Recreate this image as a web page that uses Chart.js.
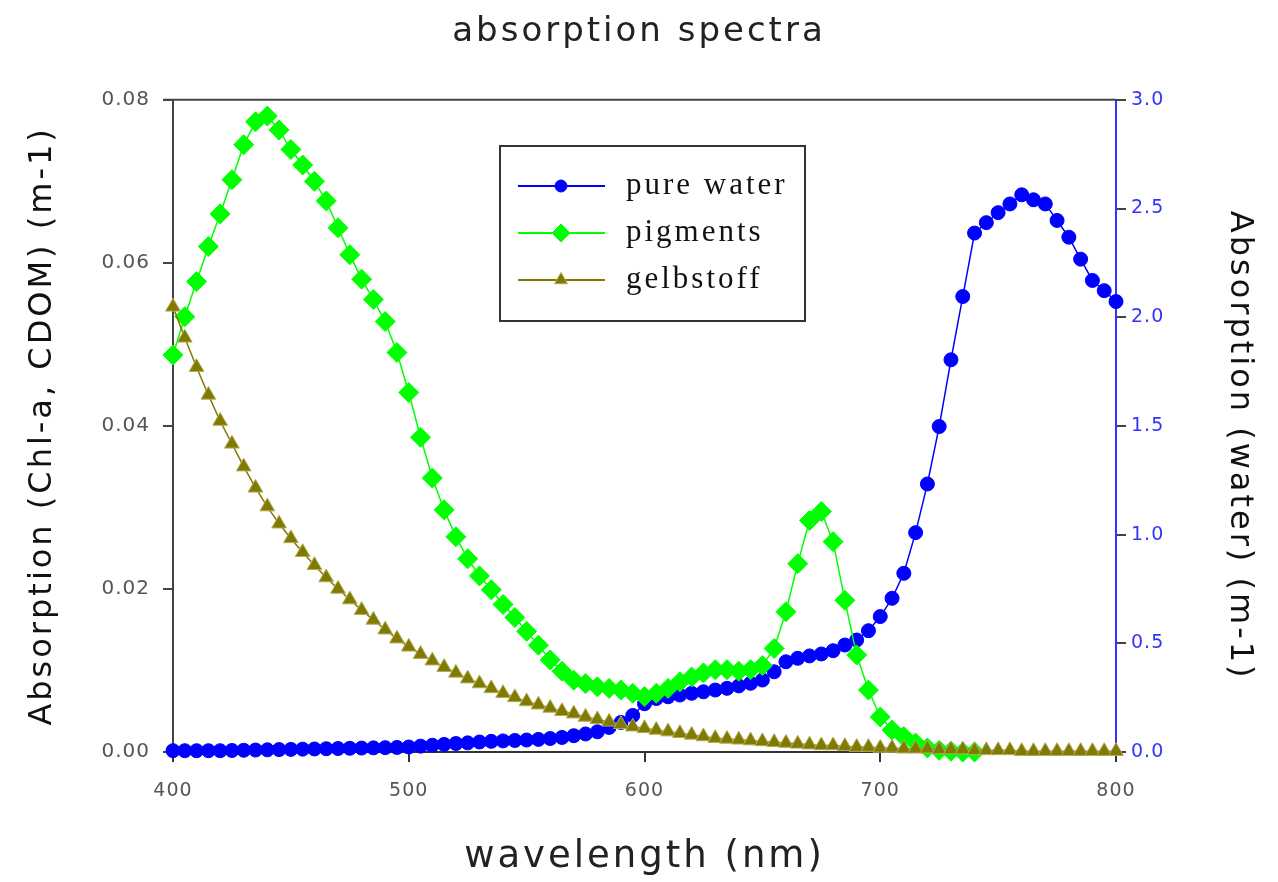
<!DOCTYPE html>
<html>
<head>
<meta charset="utf-8">
<title>absorption spectra</title>
<script src="https://cdn.jsdelivr.net/npm/chart.js@4"></script>
<style>
  html, body { margin: 0; padding: 0; background: #fff; }
  canvas { display: block; }
</style>
</head>
<body>
<canvas id="spectraChart" width="1278" height="882"></canvas>
<script>
// wavelengths (nm), 5 nm steps
const wavelengths = [
  400, 405, 410, 415, 420, 425, 430, 435, 440, 445,
  450, 455, 460, 465, 470, 475, 480, 485, 490, 495,
  500, 505, 510, 515, 520, 525, 530, 535, 540, 545,
  550, 555, 560, 565, 570, 575, 580, 585, 590, 595,
  600, 605, 610, 615, 620, 625, 630, 635, 640, 645,
  650, 655, 660, 665, 670, 675, 680, 685, 690, 695,
  700, 705, 710, 715, 720, 725, 730, 735, 740, 745,
  750, 755, 760, 765, 770, 775, 780, 785, 790, 795,
  800
];

// pure water, right axis (m-1)
const pureWater = [
  0.006, 0.006, 0.006, 0.006, 0.006, 0.007, 0.008, 0.009, 0.010, 0.011,
  0.012, 0.013, 0.014, 0.015, 0.016, 0.017, 0.018, 0.019, 0.020, 0.021,
  0.023, 0.027, 0.031, 0.035, 0.039, 0.042, 0.046, 0.049, 0.051, 0.053,
  0.055, 0.058, 0.062, 0.067, 0.075, 0.083, 0.093, 0.113, 0.136, 0.168,
  0.222, 0.246, 0.254, 0.262, 0.270, 0.277, 0.285, 0.293, 0.304, 0.316,
  0.331, 0.369, 0.415, 0.431, 0.442, 0.451, 0.466, 0.492, 0.515, 0.558,
  0.623, 0.707, 0.822, 1.009, 1.233, 1.497, 1.804, 2.095, 2.387, 2.435,
  2.481, 2.521, 2.563, 2.540, 2.521, 2.445, 2.368, 2.267, 2.169, 2.122,
  2.072
];

// pigments, left axis (400 - 740 nm)
const pigments = [
  0.0487, 0.0534, 0.0577, 0.0620, 0.0660, 0.0702, 0.0745, 0.0773, 0.0780, 0.0763,
  0.0739, 0.0720, 0.0700, 0.0676, 0.0643, 0.0610, 0.0580, 0.0555, 0.0528, 0.0490,
  0.0441, 0.0386, 0.0336, 0.0297, 0.0264, 0.0237, 0.0216, 0.0199, 0.0181, 0.0165,
  0.0148, 0.0131, 0.0113, 0.0099, 0.0088, 0.0084, 0.0080, 0.0078, 0.0076, 0.0072,
  0.0068, 0.0072, 0.0078, 0.0086, 0.0092, 0.0097, 0.0101, 0.0101, 0.0099, 0.0101,
  0.0106, 0.0127, 0.0172, 0.0231, 0.0284, 0.0295, 0.0258, 0.0186, 0.0119, 0.0076,
  0.0043, 0.0027, 0.0019, 0.0011, 0.0005, 0.0002, 0.0001, 0.0000, 0.0000
];

// gelbstoff (CDOM), left axis
const gelbstoff = [
  0.0546, 0.0508, 0.0472, 0.0438, 0.0406, 0.0378, 0.0350, 0.0324, 0.0301, 0.0280,
  0.0262, 0.0245, 0.0229, 0.0214, 0.0200, 0.0187, 0.0174, 0.0162, 0.0150, 0.0139,
  0.0129, 0.0120, 0.0112, 0.0104, 0.0097, 0.0090, 0.0084, 0.0078, 0.0072, 0.0067,
  0.0062, 0.0058, 0.0054, 0.0050, 0.0047, 0.0043, 0.0040, 0.0037, 0.0034, 0.0031,
  0.0029, 0.0027, 0.0025, 0.0023, 0.0021, 0.0019, 0.0017, 0.0016, 0.0015, 0.0014,
  0.0013, 0.0012, 0.0011, 0.0010, 0.0009, 0.0008, 0.0008, 0.0007, 0.0006, 0.0006,
  0.0005, 0.0005, 0.0004, 0.0004, 0.0004, 0.0003, 0.0003, 0.0003, 0.0002, 0.0002,
  0.0002, 0.0002, 0.0001, 0.0001, 0.0001, 0.0001, 0.0001, 0.0001, 0.0001, 0.0001,
  0.0001
];

const seriesNames = ["pure water", "pigments", "gelbstoff"];
const xTicks = [400, 500, 600, 700, 800];

const toPoints = (values) => values.map((v, i) => ({ x: wavelengths[i], y: v }));

const FONT = "'DejaVu Sans', sans-serif";
const BLUE = "#0000ff";
const GREEN = "#00ff00";
const OLIVE = "#807a00";

const datasets = [
  {
    label: seriesNames[0],
    data: toPoints(pureWater),
    yAxisID: "yWater",
    borderColor: BLUE,
    backgroundColor: BLUE,
    borderWidth: 1.5,
    pointStyle: "circle",
    pointRadius: 7,
    pointBorderWidth: 1,
    order: 2,
    clip: false,
  },
  {
    label: seriesNames[1],
    data: toPoints(pigments),
    yAxisID: "y",
    borderColor: GREEN,
    backgroundColor: GREEN,
    borderWidth: 1.5,
    pointStyle: "rectRot",
    pointRadius: 10,
    pointBorderWidth: 1,
    order: 1,
    clip: false,
  },
  {
    label: seriesNames[2],
    data: toPoints(gelbstoff),
    yAxisID: "y",
    borderColor: OLIVE,
    backgroundColor: OLIVE,
    pointBorderColor: "#b2ac5a",
    borderWidth: 1.5,
    pointStyle: "triangle",
    pointRadius: 8.5,
    pointBorderWidth: 1,
    order: 0,
    clip: false,
  },
];

// letter spacing for titles, tighter for tick labels; top frame line; boxed legend
const framePlugin = {
  id: "frame",
  afterLayout(chart) {
    Object.values(chart.scales).forEach((scale) => {
      if (scale._spaced) return;
      const drawLabels = scale.drawLabels;
      scale.drawLabels = function (area) {
        this.ctx.letterSpacing = "1px";
        drawLabels.call(this, area);
        this.ctx.letterSpacing = "3px";
      };
      scale._spaced = true;
    });
  },
  beforeDraw(chart) {
    chart.ctx.letterSpacing = "3px";
  },
  afterDraw(chart) {
    const ctx = chart.ctx;
    const area = chart.chartArea;
    ctx.save();
    // top frame line
    ctx.strokeStyle = "#444";
    ctx.lineWidth = 2;
    ctx.beginPath();
    ctx.moveTo(area.left - 10, area.top);
    ctx.lineTo(area.right, area.top);
    ctx.stroke();

    // legend box
    const box = { x: 500, y: 146, w: 305, h: 175 };
    ctx.fillStyle = "#fff";
    ctx.fillRect(box.x, box.y, box.w, box.h);
    ctx.strokeStyle = "#333";
    ctx.lineWidth = 2;
    ctx.strokeRect(box.x, box.y, box.w, box.h);

    const rows = [186, 233, 280];
    chart.data.datasets.forEach((ds, i) => {
      const y = rows[i];
      ctx.strokeStyle = ds.borderColor;
      ctx.lineWidth = 2;
      ctx.beginPath();
      ctx.moveTo(518, y);
      ctx.lineTo(605, y);
      ctx.stroke();
      ctx.fillStyle = ds.backgroundColor;
      ctx.strokeStyle = ds.pointBorderColor || ds.borderColor;
      ctx.lineWidth = 1;
      Chart.helpers.drawPoint(ctx, {
        pointStyle: ds.pointStyle,
        radius: ds.pointRadius - 1,
        rotation: 0,
        borderWidth: 1,
      }, 561, y);
      ctx.fillStyle = "#111";
      ctx.font = "31px 'Liberation Serif', serif";
      ctx.letterSpacing = "3px";
      ctx.textAlign = "left";
      ctx.textBaseline = "middle";
      ctx.fillText(ds.label, 626, y);
    });
    ctx.restore();
  },
};

const spectraChart = new Chart(document.getElementById("spectraChart"), {
  type: "line",
  data: { datasets: datasets },
  options: {
    responsive: false,
    animation: false,
    layout: { padding: 0 },
    plugins: {
      legend: { display: false },
      tooltip: { enabled: false },
      title: {
        display: true,
        text: "absorption spectra",
        color: "#222",
        font: { family: FONT, size: 34, weight: "normal" },
        padding: { top: 12, bottom: 47 },
      },
    },
    scales: {
      x: {
        type: "linear",
        min: 400,
        max: 800,
        afterBuildTicks: (scale) => {
          scale.ticks = xTicks.map((v) => ({ value: v }));
        },
        afterFit: (scale) => { scale.height = 130; },
        border: { display: true, color: "#333", width: 2 },
        grid: { drawOnChartArea: false, drawTicks: true, tickLength: 10, color: "#333", lineWidth: 2 },
        ticks: { color: "#555", padding: 18, font: { family: FONT, size: 19 } },
        title: {
          display: true,
          text: "wavelength (nm)",
          color: "#222",
          font: { family: FONT, size: 37, weight: "normal" },
          padding: { top: 0, bottom: 2 },
        },
      },
      y: {
        position: "left",
        min: 0,
        max: 0.08,
        afterFit: (scale) => { scale.width = 173; },
        border: { display: true, color: "#444", width: 2 },
        grid: { drawOnChartArea: false, drawTicks: true, tickLength: 10, color: "#444", lineWidth: 2 },
        ticks: {
          stepSize: 0.02,
          color: "#555",
          padding: 13,
          font: { family: FONT, size: 20 },
          callback: (v) => v.toFixed(2),
        },
        title: {
          display: true,
          text: "Absorption (Chl-a, CDOM) (m-1)",
          color: "#111",
          font: { family: FONT, size: 32, weight: "normal" },
          padding: { top: 23, bottom: 0 },
        },
      },
      yWater: {
        position: "right",
        min: 0,
        max: 3,
        afterFit: (scale) => { scale.width = 162; },
        border: { display: true, color: "#3333ff", width: 2 },
        grid: { drawOnChartArea: false, drawTicks: true, tickLength: 10, color: "#444", lineWidth: 2 },
        ticks: {
          stepSize: 0.5,
          color: "#3333ff",
          padding: 5,
          font: { family: FONT, size: 19 },
          callback: (v) => v.toFixed(1),
        },
        title: {
          display: true,
          text: "   Absorption (water) (m-1)",
          color: "#111",
          font: { family: FONT, size: 32, weight: "normal" },
          padding: { top: 19, bottom: 0 },
        },
      },
    },
  },
  plugins: [framePlugin],
});
</script>
</body>
</html>
